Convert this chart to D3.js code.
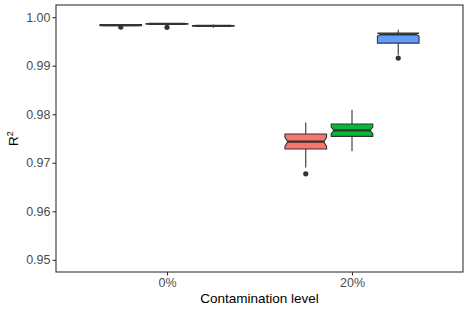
<!DOCTYPE html>
<html>
<head>
<meta charset="utf-8">
<script src="https://cdn.jsdelivr.net/npm/d3@7"></script>
<style>
  body { margin: 0; background: #fff; }
  svg text { font-family: "Liberation Sans", Arial, sans-serif; }
</style>
</head>
<body>
<div id="app"></div>
<script>
// categories
const levels = ["0%", "20%"];
const series = ["s1", "s2", "s3"];
const fills = ["#F8766D", "#00BA38", "#619CFF"];

// box stats, [series][level]
const whiskerLow = [[0.9981, 0.96905], [0.99845, 0.97235], [0.9978, 0.99224]];
const q1 = [[0.99826, 0.97284], [0.99855, 0.97543], [0.99812, 0.99465]];
const median = [[0.99836, 0.97434], [0.99862, 0.97667], [0.9982, 0.99642]];
const q3 = [[0.99845, 0.97593], [0.99869, 0.97798], [0.99828, 0.99671]];
const whiskerHigh = [[0.99858, 0.97831], [0.99878, 0.98093], [0.9985, 0.99739]];
const notchLow = [[0.99831, 0.97338], [0.99858, 0.976], [0.99817, 0.99605]];
const notchHigh = [[0.9984, 0.97523], [0.99866, 0.97737], [0.99824, 0.99671]];
const outliers = [[[0.99795], [0.96772]], [[0.9979], []], [[], [0.99156]]];

const yTicks = [0.95, 0.96, 0.97, 0.98, 0.99, 1.0];

const w = 469;
const h = 312;
const panel = { left: 56, right: 463, top: 5, bottom: 272 };

const svg = d3.select("#app").append("svg").attr("width", w).attr("height", h);

const x = d3.scalePoint().domain(levels).range([panel.left, panel.right]).padding(0.6);
const dodge = d3.scaleBand().domain(series).range([-0.375 * x.step(), 0.375 * x.step()]);
const y = d3.scaleLinear().domain([0.9475, 1.0025]).range([panel.bottom, panel.top]);

// build flat list of boxes
const boxes = [];
series.forEach((s, i) => {
  levels.forEach((l, j) => {
    boxes.push({
      s: i,
      cx: x(l) + dodge(s) + dodge.bandwidth() / 2,
      lo: whiskerLow[i][j], q1: q1[i][j], med: median[i][j], q3: q3[i][j],
      hi: whiskerHigh[i][j], nlo: notchLow[i][j], nhi: notchHigh[i][j],
      out: outliers[i][j]
    });
  });
});

const bw = dodge.bandwidth() * 0.9;
const inset = bw * 0.065;
const line = "#333333";

const g = svg.append("g");

//whiskers
g.selectAll(".whisker")
  .data(boxes)
  .enter()
  .append("line")
  .attr("x1", (d) => d.cx).attr("x2", (d) => d.cx)
  .attr("y1", (d) => y(d.hi)).attr("y2", (d) => y(d.lo))
  .attr("stroke", line)
  .attr("stroke-width", 1.1);

//notched boxes
g.selectAll(".box")
  .data(boxes)
  .enter()
  .append("path")
  .attr("d", (d) => {
    const x0 = d.cx - bw / 2, x1 = d.cx + bw / 2;
    const pts = [
      [x0, y(d.q1)], [x0, y(d.nlo)], [x0 + inset, y(d.med)], [x0, y(d.nhi)], [x0, y(d.q3)],
      [x1, y(d.q3)], [x1, y(d.nhi)], [x1 - inset, y(d.med)], [x1, y(d.nlo)], [x1, y(d.q1)]
    ];
    return "M" + pts.map((p) => p.join(",")).join("L") + "Z";
  })
  .attr("fill", (d) => fills[d.s])
  .attr("stroke", line)
  .attr("stroke-width", 1.1)
  .attr("stroke-linejoin", "miter");

//median
g.selectAll(".median")
  .data(boxes)
  .enter()
  .append("line")
  .attr("x1", (d) => d.cx - bw / 2 + inset).attr("x2", (d) => d.cx + bw / 2 - inset)
  .attr("y1", (d) => y(d.med)).attr("y2", (d) => y(d.med))
  .attr("stroke", line)
  .attr("stroke-width", 2.2);

//outliers
boxes.forEach((b) => {
  g.selectAll(null)
    .data(b.out)
    .enter()
    .append("circle")
    .attr("cx", b.cx)
    .attr("cy", (v) => y(v))
    .attr("r", 2.6)
    .attr("fill", line);
});

//panel border
svg.append("rect")
  .attr("x", panel.left).attr("y", panel.top)
  .attr("width", panel.right - panel.left).attr("height", panel.bottom - panel.top)
  .attr("fill", "none")
  .attr("stroke", "#333333")
  .attr("stroke-width", 1.1);

//y axis
const yAxis = d3.axisLeft(y).tickValues(yTicks).tickFormat(d3.format(".2f")).tickSize(3.5).tickPadding(2);
const ya = svg.append("g").attr("transform", `translate(${panel.left},0)`).call(yAxis);
ya.select(".domain").remove();
ya.selectAll(".tick line").attr("stroke", "#333333").attr("stroke-width", 1.1);
ya.selectAll(".tick text").attr("fill", "#4D4D4D").style("font-size", "12.5px");

//x axis
const xAxis = d3.axisBottom(x).tickSize(3.5).tickPadding(2.5);
const xa = svg.append("g").attr("transform", `translate(0,${panel.bottom})`).call(xAxis);
xa.select(".domain").remove();
xa.selectAll(".tick line").attr("stroke", "#333333").attr("stroke-width", 1.1);
xa.selectAll(".tick text").attr("fill", "#4D4D4D").style("font-size", "12.5px");

//titles
svg.append("text")
  .attr("x", (panel.left + panel.right) / 2)
  .attr("y", 303)
  .attr("text-anchor", "middle")
  .style("font-size", "13.5px")
  .attr("fill", "#000")
  .text("Contamination level");

const yt = svg.append("text")
  .attr("transform", `translate(18,${(panel.top + panel.bottom) / 2}) rotate(-90)`)
  .attr("text-anchor", "middle")
  .style("font-size", "13.5px")
  .attr("fill", "#000");
yt.append("tspan").text("R");
yt.append("tspan").attr("dy", -5).style("font-size", "9px").text("2");
</script>
</body>
</html>
